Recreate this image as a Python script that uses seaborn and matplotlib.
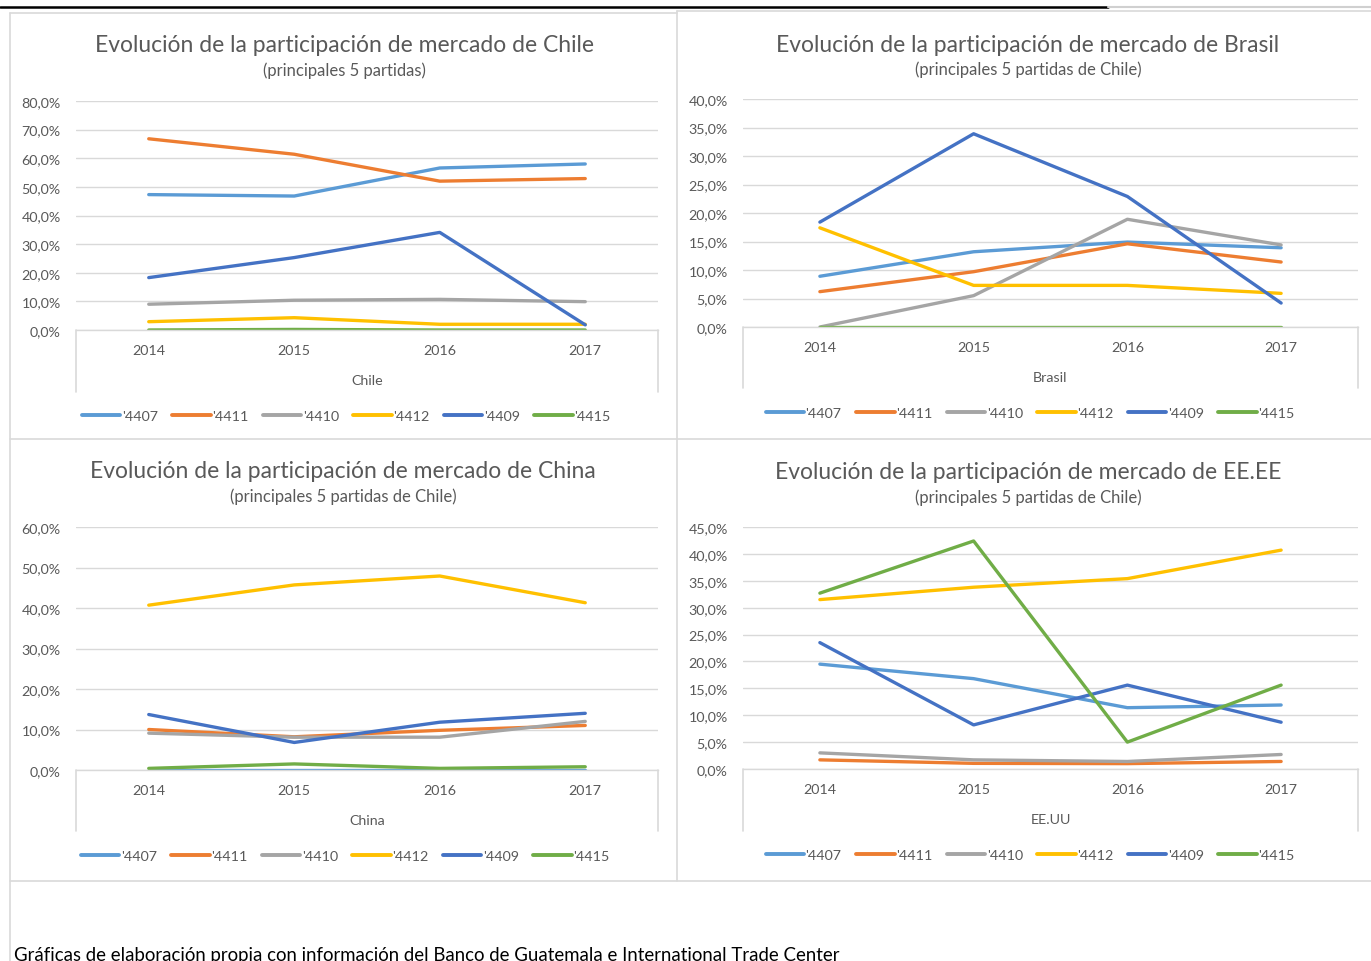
import matplotlib
matplotlib.use("Agg")
import matplotlib.pyplot as plt
from matplotlib.lines import Line2D
import seaborn as sns
import pandas as pd

# ---------------- data ----------------
years = [2014, 2015, 2016, 2017]
partidas = ["'4407", "'4411", "'4410", "'4412", "'4409", "'4415"]
colors = ["#5B9BD5", "#ED7D31", "#A5A5A5", "#FFC000", "#4472C4", "#70AD47"]

# values in percent, one row per partida (same order as `partidas`)
chile_values = [
    [47.3, 46.8, 56.6, 58.0],
    [66.8, 61.4, 52.0, 52.9],
    [9.0, 10.4, 10.7, 9.9],
    [2.9, 4.3, 2.0, 2.0],
    [18.3, 25.3, 34.1, 1.8],
    [0.0, 0.2, 0.0, 0.0],
]
brasil_values = [
    [8.9, 13.2, 14.9, 13.9],
    [6.2, 9.7, 14.6, 11.4],
    [0.0, 5.5, 18.9, 14.4],
    [17.4, 7.3, 7.3, 5.9],
    [18.4, 33.9, 22.9, 4.2],
    [0.0, 0.0, 0.0, 0.0],
]
china_values = [
    [0.05, 0.05, 0.05, 0.05],
    [10.0, 8.2, 9.8, 11.0],
    [9.1, 8.1, 8.1, 12.0],
    [40.7, 45.7, 47.9, 41.3],
    [13.7, 6.8, 11.8, 14.0],
    [0.4, 1.5, 0.4, 0.8],
]
eeuu_values = [
    [19.5, 16.8, 11.4, 11.9],
    [1.7, 1.05, 1.0, 1.4],
    [3.0, 1.7, 1.4, 2.7],
    [31.5, 33.8, 35.4, 40.7],
    [23.5, 8.2, 15.6, 8.7],
    [32.7, 42.4, 5.0, 15.6],
]

titles = [
    "Evolución de la participación de mercado de Chile",
    "Evolución de la participación de mercado de Brasil",
    "Evolución de la participación de mercado de China",
    "Evolución de la participación de mercado de EE.EE",
]
subtitles = [
    "(principales 5 partidas)",
    "(principales 5 partidas de Chile)",
    "(principales 5 partidas de Chile)",
    "(principales 5 partidas de Chile)",
]
axis_titles = ["Chile", "Brasil", "China", "EE.UU"]
ymax_list = [80, 40, 60, 45]
ystep_list = [10, 5, 10, 5]
footer = "Gráficas de elaboración propia con información del Banco de Guatemala e International Trade Center"

# ---------------- style ----------------
sns.set_style("white")
plt.rcParams["font.family"] = ["Lato", "DejaVu Sans"]
TXT = "#595959"
GRID = "#D9D9D9"

W, H = 1371, 962
fig = plt.figure(figsize=(W / 100, H / 100), dpi=100)
fig.patch.set_facecolor("white")


def fx(x):
    return x / W


def fy(y):
    return 1 - y / H


def fline(x0, y0, x1, y1, color=GRID, lw=1.2):
    fig.add_artist(Line2D([fx(x0), fx(x1)], [fy(y0), fy(y1)], color=color, lw=lw,
                          transform=fig.transFigure))


# panel geometry (pixels)
panels = [
    dict(l=76, r=658, t=102, b=331, db=393, tx=344, ty=46, sy=71, ly=417),
    dict(l=743, r=1358, t=100, b=328, db=389, tx=1028, ty=45, sy=70, ly=414),
    dict(l=76, r=658, t=528, b=771, db=832, tx=343, ty=472, sy=497, ly=857),
    dict(l=743, r=1358, t=528, b=770, db=832, tx=1028, ty=473, sy=498, ly=856),
]
datasets = [chile_values, brasil_values, china_values, eeuu_values]

for i, p in enumerate(panels):
    values = datasets[i]
    rows = []
    for name, vals in zip(partidas, values):
        for yr, v in zip(years, vals):
            rows.append({"year": yr, "value": v, "partida": name})
    df = pd.DataFrame(rows)

    ax = fig.add_axes([fx(p["l"]), fy(p["b"]), fx(p["r"] - p["l"]), (p["b"] - p["t"]) / H])
    sns.lineplot(data=df, x="year", y="value", hue="partida", hue_order=partidas,
                 palette=colors, linewidth=2.4, ax=ax, legend=False, sort=False,
                 solid_capstyle="round", solid_joinstyle="round")
    ymax = ymax_list[i]
    ax.set_xlim(2013.5, 2017.5)
    ax.set_ylim(0, ymax)
    yt = list(range(0, ymax + 1, ystep_list[i]))
    ax.set_yticks(yt)
    ax.set_yticklabels([("%.1f%%" % v).replace(".", ",") for v in yt])
    ax.set_xticks(years)
    ax.set_xticklabels([str(y) for y in years])
    ax.tick_params(axis="both", length=0, labelsize=10.3, colors=TXT)
    ax.tick_params(axis="y", pad=11)
    ax.tick_params(axis="x", pad=10)
    ax.yaxis.grid(True, color=GRID, lw=1.0)
    ax.set_axisbelow(True)
    for s in ["top", "right", "left"]:
        ax.spines[s].set_visible(False)
    ax.spines["bottom"].set_color(GRID)
    ax.spines["bottom"].set_linewidth(1.0)
    ax.set_xlabel(axis_titles[i], fontsize=10.3, color=TXT, labelpad=13)
    ax.set_ylabel("")
    ax.patch.set_alpha(0)

    # multi-level category dividers
    fline(p["l"], p["b"], p["l"], p["db"])
    fline(p["r"], p["b"], p["r"], p["db"])

    fig.text(fx(p["tx"]), fy(p["ty"]), titles[i], ha="center", va="center",
             fontsize=16.5, color=TXT)
    fig.text(fx(p["tx"]), fy(p["sy"]), subtitles[i], ha="center", va="center",
             fontsize=12, color=TXT)

    handles = [Line2D([], [], color=c, lw=2.8, solid_capstyle="round") for c in colors]
    fig.legend(handles, partidas, loc="center", bbox_to_anchor=(fx(p["tx"] + 2), fy(p["ly"])),
               ncol=6, frameon=False, fontsize=10.3, handlelength=2.7, handletextpad=0.1,
               columnspacing=1.0, labelcolor=TXT)

# panel borders
fline(0, 8, 1108, 8, color="black", lw=1.8)
fline(1108, 8, 1371, 8, color="#D0D0D0", lw=1.5)
fline(10, 14, 677, 14)
fline(677, 12, 1371, 12)
fline(10, 14, 10, 962)
fline(677, 12, 677, 882)
fline(10, 440, 1371, 440)
fline(10, 882, 1371, 882)

fig.text(fx(14), fy(956), footer, ha="left", va="center", fontsize=13.4, color="black")

fig.savefig("out.png", dpi=100, facecolor="white")
